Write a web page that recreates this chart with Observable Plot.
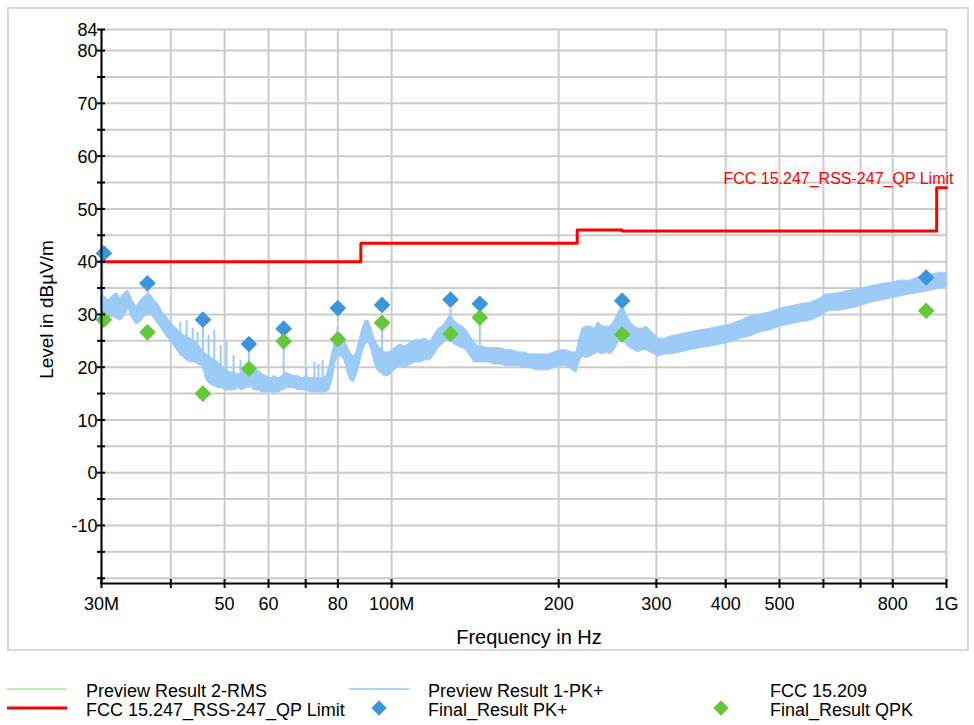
<!DOCTYPE html>
<html>
<head>
<meta charset="utf-8">
<script src="https://cdn.jsdelivr.net/npm/d3@7"></script>
<script src="https://cdn.jsdelivr.net/npm/@observablehq/plot@0.6"></script>
<style>
  body { margin: 0; background: #fff; font-family: "Liberation Sans", Arial, sans-serif; }
  #wrap { position: relative; width: 974px; height: 725px; overflow: hidden; background: #fff; }
  #chart { position: absolute; left: 0; top: 0; }
  #border { position: absolute; left: 7px; top: 7px; width: 958px; height: 640px; border: 2px solid #d9d9d9; pointer-events: none; }
  #legend { position: absolute; left: 0; top: 660px; }
</style>
</head>
<body>
<div id="wrap">
  <div id="chart"></div>
  <div id="border"></div>
  <svg id="legend" width="974" height="65"></svg>
</div>
<script>
// ---------- DATA (frequency in MHz, level in dBµV/m) ----------
// Preview Result 1-PK+ : noise band envelope
const bandFreq = [
  30.0,30.38,30.88,31.40,31.93,32.46,33.00,33.55,34.12,34.69,
  35.27,35.86,36.76,37.38,38.00,38.64,39.29,39.94,40.61,41.29,
  41.98,42.69,43.40,44.13,44.86,45.61,46.38,47.15,47.94,48.75,
  49.56,50.39,51.23,52.09,52.96,53.85,54.75,55.67,56.60,57.55,
  58.51,59.49,60.48,61.50,62.53,63.57,64.64,65.72,66.82,67.94,
  69.07,70.23,71.41,72.60,73.82,75.05,76.31,77.26,78.23,79.21,
  80.20,81.21,82.22,83.25,84.29,85.35,86.42,87.50,88.60,89.71,
  90.83,91.97,93.12,94.28,95.46,97.09,98.71,100.4,102.1,103.8,
  105.9,108.2,110.4,112.7,115.1,117.5,119.5,121.5,123.5,125.6,
  127.7,129.8,132.0,134.2,136.4,138.7,141.0,143.4,145.8,149.5,
  153.2,157.1,161.1,165.1,169.3,173.6,177.9,182.4,187.0,191.7,
  196.5,201.5,206.6,211.8,215.3,218.0,220.8,224.4,228.2,232.0,
  235.9,239.9,243.9,248.0,252.1,256.3,260.6,265.0,269.4,273.9,
  278.5,283.2,287.9,292.7,297.6,302.6,310.3,318.1,331.5,345.6,
  360.2,375.5,391.4,408.0,425.2,443.2,462.0,481.6,502.0,523.2,
  545.4,568.5,592.5,607.5,617.6,643.8,671.1,699.5,729.1,760.0,
  792.2,825.7,860.7,897.1,935.1,974.7,1000
];
const bandHi = [
  33.4,33.4,32.6,33.4,34.1,33.0,34.1,34.5,32.6,31.5,
  32.6,33.4,33.8,32.6,31.9,30.4,29.6,28.5,27.7,27.0,
  26.2,25.8,25.4,25.1,24.3,23.2,22.4,22.0,21.3,20.9,
  20.2,19.4,19.0,19.0,18.6,19.0,19.4,20.2,19.0,19.4,
  18.6,18.3,17.9,18.3,17.9,18.3,19.0,18.6,18.3,18.3,
  17.9,18.3,17.9,17.9,17.9,17.9,18.3,20.2,22.8,25.4,
  26.6,26.2,25.4,23.9,22.8,22.0,22.8,25.1,27.3,28.8,
  28.8,27.3,25.4,24.3,23.6,22.8,22.8,23.2,23.9,24.3,
  23.9,24.7,25.1,25.1,25.4,24.7,26.2,27.3,27.7,28.8,
  30.0,28.8,28.1,27.7,27.0,25.8,24.7,23.9,23.9,23.6,
  23.6,23.6,23.2,23.2,22.8,22.8,22.4,22.4,22.4,22.4,
  22.8,23.2,23.2,22.8,22.8,25.4,27.3,27.7,27.7,27.3,
  28.5,27.7,27.7,27.7,28.8,30.4,31.5,30.0,28.5,27.7,
  27.3,27.3,27.7,27.0,26.2,25.4,25.4,25.8,26.2,26.6,
  27.0,27.3,27.7,28.1,28.8,29.6,30.0,30.4,31.1,31.5,
  31.9,32.2,33.0,33.8,33.8,34.1,34.5,34.9,35.3,35.7,
  36.0,36.4,36.4,37.2,37.5,37.9,37.9
];
const bandLo = [
  30.4,30.0,29.2,29.6,29.2,28.8,29.6,31.1,29.2,28.1,
  28.5,29.6,30.0,29.2,28.1,27.0,25.8,25.1,23.9,22.8,
  22.0,21.3,20.9,20.9,20.5,20.2,17.5,16.7,16.4,16.0,
  16.0,15.6,15.6,15.6,16.0,15.6,16.0,16.4,15.6,15.6,
  15.2,15.2,15.2,15.2,15.2,15.6,16.0,16.0,16.0,15.6,
  15.6,15.6,15.2,15.2,15.2,15.2,15.2,15.6,17.5,20.9,
  22.0,22.0,21.3,19.0,17.5,17.1,18.3,20.2,22.8,24.3,
  24.7,23.2,20.9,19.4,19.0,18.3,18.3,19.0,19.8,20.2,
  19.8,20.5,20.9,20.9,21.3,21.3,22.4,23.6,24.3,25.1,
  25.1,24.3,23.9,23.6,23.2,22.0,20.9,20.9,20.9,20.9,
  20.5,20.5,20.2,20.2,20.2,19.8,19.8,19.4,19.4,19.4,
  19.8,20.2,20.2,19.4,19.0,20.9,22.0,21.7,22.0,22.4,
  22.8,22.4,22.8,22.4,23.2,24.7,25.1,24.3,23.6,23.2,
  22.8,23.2,23.2,22.8,22.4,22.0,22.4,22.4,22.8,23.2,
  23.6,23.9,24.3,24.7,25.4,25.8,26.6,27.0,27.7,28.1,
  28.5,28.8,29.6,30.4,30.7,30.7,31.1,31.5,32.2,32.6,
  33.0,33.4,33.8,34.1,34.5,34.9,35.3
];
// Preview Result 1-PK+ : narrow spikes
const spikeFreq = [30.1,36.3,41.6,42.7,43.8,44.7,45.7,46.8,47.9,49.2,50.4,51.9,53.4,55.3,63.9,70.2,72.6,73.8,75.1,79.9,96.1,127.7,144.2,260.3];
const spikeTop  = [41.5,35.3,28.5,28.8,27.3,26.6,28.8,26.0,27.0,24.1,24.7,22.2,21.3,24.5,25.6,19.8,20.9,20.5,21.3,27.5,28.5,31.1,30.2,31.7];
const spikeBase = [32.0,30.0,22.0,21.3,20.9,20.5,20.2,17.5,16.4,16.0,15.6,15.6,15.6,16.0,15.6,15.6,15.2,15.2,15.2,22.0,19.0,25.1,20.9,25.1];
// Final results
const finalFreq  = [30.3,36.3,45.7,55.3,63.9,80.0,96.1,127.7,144.2,260.3,919.1];
const pkLevel    = [41.6,35.9,29.0,24.4,27.3,31.2,31.8,32.8,32.0,32.6,37.0];
const qpkLevel   = [29.0,26.6,15.0,19.7,24.9,25.3,28.4,26.3,29.4,26.2,30.7];
// Limit line
const limitFreq  = [30, 88, 216, 260, 960, 1000];
const limitLevel = [40, 43.5, 46.0, 45.8, 54, 54];
const limitName  = "FCC 15.247_RSS-247_QP Limit";
// Axes
const xTicks      = [30,40,50,60,70,80,100,200,300,400,500,600,700,800,1000];
const xTickLabels = ["30M","","50","60","","80","100M","200","300","400","500","","","800","1G"];
const yTicks      = [-20,-15,-10,-5,0,5,10,15,20,25,30,35,40,45,50,55,60,65,70,75,80,84];
const yTickLabels = [84,80,70,60,50,40,30,20,10,0,-10];
const yDomain     = [-21, 84];
const xDomain     = [30, 1000];
const xTitle = "Frequency in Hz";
const yTitle = "Level in dBµV/m";
// Legend
const legendNames = ["Preview Result 2-RMS","Preview Result 1-PK+","FCC 15.209",
                     "FCC 15.247_RSS-247_QP Limit","Final_Result PK+","Final_Result QPK"];

// ---------- STYLES ----------
const TRACE = "#9dcbf8", PK = "#3b95dc", QPK = "#63c93a", LIMIT = "#ff0000", GRID = "#cccccc";
const FONT = "'Liberation Sans', Arial, sans-serif";
const legendStyle = {
  "Preview Result 2-RMS": {kind: "line", color: "#b8f0a4", width: 2},
  "Preview Result 1-PK+": {kind: "line", color: "#afd5f8", width: 2},
  "FCC 15.209": {kind: "none"},
  "FCC 15.247_RSS-247_QP Limit": {kind: "line", color: LIMIT, width: 3},
  "Final_Result PK+": {kind: "diamond", color: PK},
  "Final_Result QPK": {kind: "diamond", color: QPK}
};

// ---------- BUILD ----------
const band = bandFreq.map((f, i) => ({f, hi: bandHi[i], lo: bandLo[i]}));
const spikes = spikeFreq.map((f, i) => ({f, top: spikeTop[i], base: spikeBase[i]}));
const pk = finalFreq.map((f, i) => ({f, v: pkLevel[i]}));
const qpk = finalFreq.map((f, i) => ({f, v: qpkLevel[i]}));
const limit = limitFreq.map((f, i) => ({f, v: limitLevel[i]}));
const xLab = xTicks.map((t, i) => ({t, s: xTickLabels[i]})).filter(d => d.s !== "");

const W = 974, H = 660, ML = 101, MR = 28, MT = 29, MB = 77;
const plotW = W - ML - MR, plotH = H - MT - MB;

const chart = Plot.plot({
  width: W, height: H,
  marginLeft: ML, marginRight: MR, marginTop: MT, marginBottom: MB,
  style: {background: "transparent", fontFamily: FONT, color: "#000", overflow: "visible"},
  x: {type: "log", domain: xDomain, axis: null},
  y: {domain: yDomain, axis: null},
  marks: [
    // grid
    Plot.ruleY(yTicks, {y: d => d, stroke: GRID, strokeWidth: 2}),
    Plot.ruleX(xTicks, {x: d => d, stroke: GRID, strokeWidth: 2}),
    // limit
    Plot.line(limit, {x: "f", y: "v", curve: "step-after", stroke: LIMIT, strokeWidth: 3}),
    Plot.text([limit[limit.length - 1]], {x: "f", y: "v", text: () => limitName, textAnchor: "end",
      lineAnchor: "middle", dx: 7, dy: -9, fill: LIMIT, fontSize: 16}),
    // trace
    Plot.areaY(band, {x: "f", y1: "lo", y2: "hi", fill: TRACE, stroke: TRACE, strokeWidth: 1}),
    Plot.ruleX(spikes, {x: "f", y1: "base", y2: "top", stroke: TRACE, strokeWidth: 2}),
    // final results
    Plot.dot(pk, {x: "f", y: "v", symbol: d3.symbolDiamond2, r: 7.5, fill: PK, stroke: "none"}),
    Plot.dot(qpk, {x: "f", y: "v", symbol: d3.symbolDiamond2, r: 7.5, fill: QPK, stroke: "none"}),
    // axes lines
    Plot.ruleX([xDomain[0]], {x: d => d, stroke: "#000", strokeWidth: 2}),
    Plot.ruleY([yDomain[0]], {y: d => d, stroke: "#000", strokeWidth: 2, insetLeft: -1}),
    // tick marks
    Plot.ruleY(yTicks, {y: d => d, stroke: "#000", strokeWidth: 2, insetLeft: -4, insetRight: plotW - 4}),
    Plot.ruleX(xTicks, {x: d => d, stroke: "#000", strokeWidth: 2, insetTop: plotH - 4, insetBottom: -5}),
    // tick labels
    Plot.text(yTickLabels, {y: d => d, text: d => String(d), frameAnchor: "left", textAnchor: "end",
      lineAnchor: "middle", dx: -4, dy: 1, fontSize: 18, fill: "#000"}),
    Plot.text(xLab, {x: "t", text: "s", frameAnchor: "bottom", lineAnchor: "middle",
      dy: 21, fontSize: 18, fill: "#000"}),
    // titles
    Plot.text([xTitle], {text: d => d, frameAnchor: "bottom", lineAnchor: "middle",
      dy: 54, dx: 5, fontSize: 20, fill: "#000"}),
    Plot.text([yTitle], {text: d => d, frameAnchor: "middle", lineAnchor: "middle",
      rotate: -90, dx: -(plotW / 2) - 55 + 0.5, dy: 3, fontSize: 19, fill: "#000"})
  ]
});
document.getElementById("chart").appendChild(chart);

// ---------- LEGEND ----------
const lg = d3.select("#legend").style("font-family", FONT);
const colX = [7, 349, 691], rowY = [29, 48], swatchW = 60, textOff = 79;
legendNames.forEach((name, i) => {
  const c = i % 3, r = Math.floor(i / 3);
  const st = legendStyle[name];
  const x0 = colX[c], y0 = rowY[r];
  if (st.kind === "line") {
    lg.append("line").attr("x1", x0).attr("x2", x0 + swatchW).attr("y1", y0).attr("y2", y0)
      .attr("stroke", st.color).attr("stroke-width", st.width);
  } else if (st.kind === "diamond") {
    lg.append("path").attr("d", d3.symbol(d3.symbolDiamond2, 150)())
      .attr("transform", `translate(${x0 + swatchW / 2},${y0})`).attr("fill", st.color);
  }
  lg.append("text").attr("x", x0 + textOff).attr("y", y0 + 7.5)
    .attr("font-size", 18).attr("fill", "#000").text(name);
});
</script>
</body>
</html>
